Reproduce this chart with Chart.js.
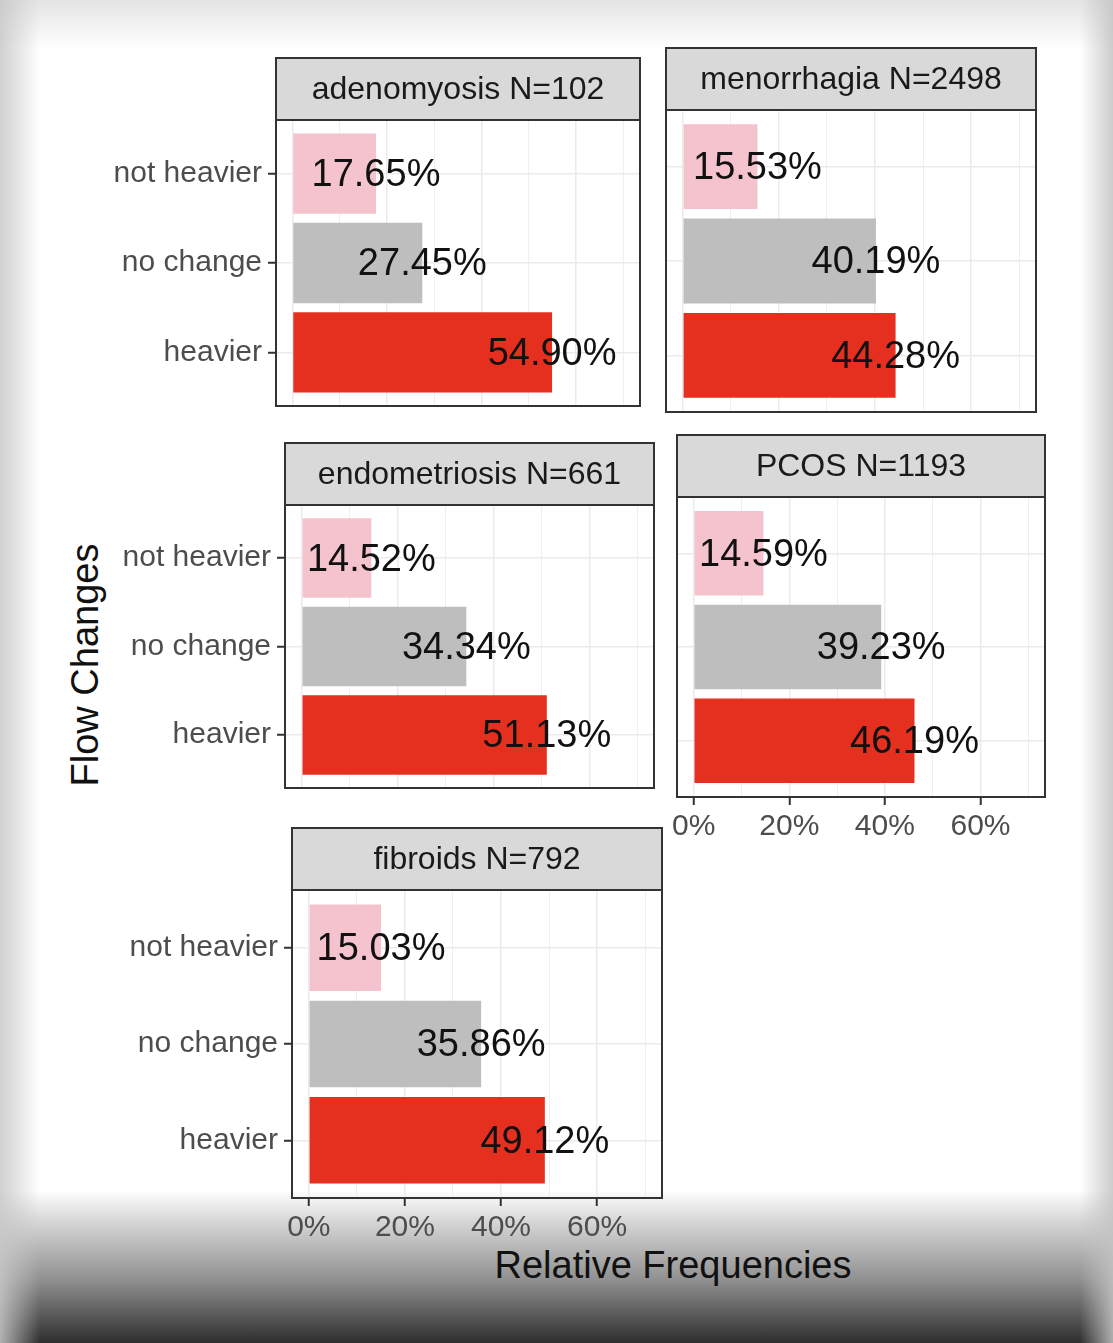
<!DOCTYPE html>
<html>
<head>
<meta charset="utf-8">
<title>Flow Changes by condition</title>
<script src="https://cdn.jsdelivr.net/npm/chart.js@4.4.0/dist/chart.umd.min.js"></script>
<style>
html, body { margin: 0; padding: 0; }
body {
    width: 1113px; height: 1343px; position: relative; overflow: hidden;
    font-family: "Liberation Sans", Arial, sans-serif;
    background:
        linear-gradient(to right, rgba(200,200,200,0.85) 0, rgba(255,255,255,0) 40px, rgba(255,255,255,0) 1080px, rgba(195,195,195,0.85) 1113px),
        linear-gradient(to bottom, #e4e4e4 0, #fff 50px, #fff 1190px, #d8d8d8 1220px, #909090 1280px, #2e2e2e 1343px);
}
canvas { position: absolute; }
.axis-title { position: absolute; color: #111; font-size: 38px; white-space: nowrap; }
</style>
</head>
<body>
<div class="axis-title" id="x-title" style="left:673px; top:1244px; transform:translateX(-50%);">Relative Frequencies</div>
<div class="axis-title" id="y-title" style="left:85px; top:665px; transform:translate(-50%,-50%) rotate(-90deg);">Flow Changes</div>
<script>
const categories = ["not heavier", "no change", "heavier"];
const conditions = ["adenomyosis", "menorrhagia", "endometriosis", "PCOS", "fibroids"];
const counts = [102, 2498, 661, 1193, 792];
const adenomyosisValues = [17.65, 27.45, 54.90];
const menorrhagiaValues = [15.53, 40.19, 44.28];
const endometriosisValues = [14.52, 34.34, 51.13];
const pcosValues = [14.59, 39.23, 46.19];
const fibroidsValues = [15.03, 35.86, 49.12];
const xTicks = [0, 10, 20, 30, 40, 50, 60, 70];

const seriesValues = [adenomyosisValues, menorrhagiaValues, endometriosisValues, pcosValues, fibroidsValues];
const barColors = ["#f4c3cd", "#bebebe", "#e5301f"];
const FONT = '"Liberation Sans", Arial, sans-serif';
const STRIP = 62;

// where each facet's panel sits on the page
const panels = [
    {x: 276, y: 120, w: 364, h: 306, showY: true, showX: false},
    {x: 666, y: 110, w: 370, h: 302, showY: false, showX: false},
    {x: 285, y: 505, w: 369, h: 303, showY: true, showX: false},
    {x: 677, y: 497, w: 368, h: 300, showY: false, showX: true},
    {x: 292, y: 890, w: 370, h: 308, showY: true, showX: true},
];

const facetPlugin = {
    id: "facet",
    afterDatasetsDraw(chart) {
        const ctx = chart.ctx;
        const meta = chart.getDatasetMeta(0);
        const data = chart.data.datasets[0].data;
        ctx.save();
        ctx.font = "38px " + FONT;
        ctx.fillStyle = "#111";
        ctx.textAlign = "center";
        ctx.textBaseline = "middle";
        meta.data.forEach((bar, i) => {
            ctx.fillText(data[i].x.toFixed(2) + "%", bar.x, bar.y + 2);
        });
        ctx.restore();
    },
    afterDraw(chart, args, opts) {
        const {left, top, right, bottom} = chart.chartArea;
        const ctx = chart.ctx;
        ctx.save();
        ctx.fillStyle = "#d9d9d9";
        ctx.fillRect(left, top - STRIP, right - left, STRIP);
        ctx.strokeStyle = "#333";
        ctx.lineWidth = 2;
        ctx.strokeRect(left, top - STRIP, right - left, STRIP);
        ctx.strokeRect(left, top, right - left, bottom - top);
        ctx.fillStyle = "#1a1a1a";
        ctx.font = "32px " + FONT;
        ctx.textAlign = "center";
        ctx.textBaseline = "middle";
        ctx.fillText(opts.title, (left + right) / 2, top - STRIP / 2 + 1);
        ctx.restore();
    }
};

function createFacet(index) {
    const p = panels[index];
    const gutter = p.showY ? 200 : 30;
    const bottomGap = p.showX ? 62 : 4;
    const canvas = document.createElement("canvas");
    const width = gutter + p.w + 12;
    const height = STRIP + 4 + p.h + bottomGap;
    canvas.width = width;
    canvas.height = height;
    canvas.style.width = width + "px";
    canvas.style.height = height + "px";
    canvas.style.left = (p.x - gutter) + "px";
    canvas.style.top = (p.y - STRIP - 4) + "px";
    document.body.appendChild(canvas);

    let values = seriesValues[index];
    return new Chart(canvas, {
        type: "bar",
        data: {
            datasets: [{
                data: values.map((v, i) => ({x: v, y: categories.length - i})),
                backgroundColor: barColors,
                borderWidth: 0,
                barPercentage: 0.9,
                categoryPercentage: 1.0,
            }]
        },
        plugins: [facetPlugin],
        options: {
            indexAxis: "y",
            responsive: false,
            animation: false,
            layout: {padding: {left: 0, top: STRIP + 4, right: 12, bottom: 0}},
            plugins: {
                legend: {display: false},
                tooltip: {enabled: false},
                facet: {title: conditions[index] + " N=" + counts[index]},
            },
            scales: {
                x: {
                    type: "linear",
                    min: -3.5,
                    max: 73.5,
                    afterBuildTicks: s => { s.ticks = xTicks.map(v => ({value: v})); },
                    afterFit: s => { s.height = bottomGap; },
                    border: {display: false},
                    grid: {
                        color: "#ebebeb",
                        lineWidth: c => (c.tick && c.tick.value % 20 === 0) ? 1.5 : 0.8,
                        drawTicks: p.showX,
                        tickLength: 8,
                        tickWidth: 2,
                        tickColor: c => (c.tick && c.tick.value % 20 === 0) ? "#333" : "rgba(0,0,0,0)",
                    },
                    ticks: {
                        display: p.showX,
                        autoSkip: false,
                        maxRotation: 0,
                        padding: 4,
                        color: "#4d4d4d",
                        font: {family: FONT, size: 30},
                        callback: v => v % 20 === 0 ? v + "%" : "",
                    }
                },
                y: {
                    type: "linear",
                    min: 0.4,
                    max: 3.6,
                    offset: false,
                    afterBuildTicks: s => { s.ticks = categories.map((c, i) => ({value: categories.length - i})); },
                    afterFit: s => { s.width = gutter; },
                    border: {display: false},
                    grid: {
                        offset: false,
                        color: "#ebebeb",
                        lineWidth: 1.5,
                        drawTicks: p.showY,
                        tickLength: 8,
                        tickWidth: 2,
                        tickColor: "#333",
                    },
                    ticks: {
                        display: p.showY,
                        padding: 6,
                        color: "#4d4d4d",
                        font: {family: FONT, size: 30},
                        callback: v => categories[categories.length - v],
                    }
                }
            }
        }
    });
}

for (let i = 0; i < conditions.length; i++)
    createFacet(i);
</script>
</body>
</html>
